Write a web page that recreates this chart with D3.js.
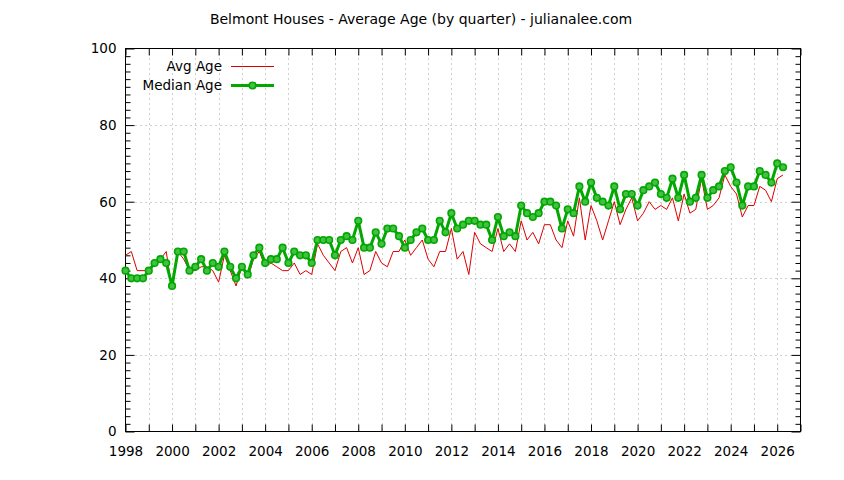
<!DOCTYPE html>
<html>
<head>
<meta charset="utf-8">
<script src="https://cdn.jsdelivr.net/npm/d3@7"></script>
<style>
  html, body { margin: 0; padding: 0; background: #fff; }
  svg { display: block; font-family: "DejaVu Sans", Verdana, sans-serif; }
</style>
</head>
<body>
<svg id="chart" width="844" height="480"></svg>
<script>
// ---- Data (quarterly, starting 1998 Q1) ----
const startYear = 1998;
const avgAge = [
  46, 47, 42, 42,   42, 44, 45, 47,   37, 47, 45, 42,   42, 43, 43, 42,
  39, 46, 42, 38,   43, 40, 45, 47,   43, 44, 43, 42,   42, 44, 41, 42,
  41, 49, 46, 44,   42, 47, 48, 44,   48, 41, 42, 47,   44, 43, 47, 47,
  50, 46, 48, 50,   45, 43, 47, 47,   53, 45, 47, 41,   52, 49, 48, 47,
  53, 47, 49, 47,   55, 50, 52, 49,   54, 54, 50, 48,   55, 51, 61, 50,
  59, 55, 50, 55,   60, 54, 58, 61,   55, 57, 60, 58,   59, 58, 61, 55,
  62, 57, 58, 66,   58, 59, 61, 67,   64, 62, 56, 59,   59, 64, 63, 60,
  66, 67
];
const medianAge = [
  42, 40, 40, 40,   42, 44, 45, 44,   38, 47, 47, 42,   43, 45, 42, 44,
  43, 47, 43, 40,   43, 41, 46, 48,   44, 45, 45, 48,   44, 47, 46, 46,
  44, 50, 50, 50,   46, 50, 51, 50,   55, 48, 48, 52,   49, 53, 53, 51,
  48, 50, 52, 53,   50, 50, 55, 52,   57, 53, 54, 55,   55, 54, 54, 50,
  56, 51, 52, 51,   59, 57, 56, 57,   60, 60, 59, 53,   58, 57, 64, 60,
  65, 61, 60, 59,   64, 58, 62, 62,   59, 63, 64, 65,   62, 61, 66, 61,
  67, 60, 61, 67,   61, 63, 64, 68,   69, 65, 59, 64,   64, 68, 67, 65,
  70, 69
];
const xTickLabels = [1998, 2000, 2002, 2004, 2006, 2008, 2010, 2012, 2014, 2016, 2018, 2020, 2022, 2024, 2026];
const yTickLabels = [0, 20, 40, 60, 80, 100];
const seriesNames = ["Avg Age", "Median Age"];
const titleText = "Belmont Houses - Average Age (by quarter) - julianalee.com";

// ---- Layout ----
const svg = d3.select("#chart");
const L = 125.5, R = 800.5, T = 48.5, B = 431.5;
const x = d3.scaleLinear().domain([1998, 2027]).range([L, R]);
const y = d3.scaleLinear().domain([0, 100]).range([B, T]);

const RED = "#dd0000", GREEN = "#00a800", GREEN_FILL = "#44c044";
const fontSize = 13.5;

// Grid
const yearTicks = d3.range(1999, 2027);
const gridG = svg.append("g");
gridG.selectAll("line.vg").data(yearTicks).join("line")
  .attr("x1", d => Math.round(x(d)) + 0.5).attr("x2", d => Math.round(x(d)) + 0.5)
  .attr("y1", T).attr("y2", B)
  .attr("stroke", "#a0a0a0").attr("stroke-width", 1).attr("stroke-dasharray", "1,4");
gridG.selectAll("line.hg").data(yTickLabels.filter(v => v > 0 && v < 100)).join("line")
  .attr("x1", L).attr("x2", R)
  .attr("y1", d => Math.round(y(d)) + 0.5).attr("y2", d => Math.round(y(d)) + 0.5)
  .attr("stroke", "#a0a0a0").attr("stroke-width", 1).attr("stroke-dasharray", "1,4");

// Axes with d3 axis generators (ticks inward on all four sides)
const yMinor = d3.range(0, 101, 2).filter(v => v % 20 !== 0);
function addAxis(gen, transform) {
  const g = svg.append("g").attr("transform", transform).call(gen);
  g.select(".domain").remove();
  g.selectAll("line").attr("stroke", "#000");
  g.selectAll("text").attr("font-family", "DejaVu Sans, Verdana, sans-serif")
    .attr("font-size", fontSize).attr("fill", "#000");
  return g;
}
// bottom year ticks (inward)
addAxis(d3.axisBottom(x).tickValues(d3.range(1998, 2028)).tickSize(-7)
  .tickFormat(d => xTickLabels.includes(d) ? String(d) : ""), `translate(0,${B})`)
  .selectAll("text").attr("y", 15).attr("dy", "0.71em");
addAxis(d3.axisTop(x).tickValues(d3.range(1998, 2028)).tickSize(-7).tickFormat(""), `translate(0,${T})`);
// left major/minor
addAxis(d3.axisLeft(y).tickValues(yTickLabels).tickSize(-9).tickFormat(d3.format("d")), `translate(${L},0)`)
  .selectAll("text").attr("x", -9);
addAxis(d3.axisLeft(y).tickValues(yMinor).tickSize(-5).tickFormat(""), `translate(${L},0)`);
addAxis(d3.axisRight(y).tickValues(yTickLabels).tickSize(-9).tickFormat(""), `translate(${R},0)`);
addAxis(d3.axisRight(y).tickValues(yMinor).tickSize(-5).tickFormat(""), `translate(${R},0)`);

// Frame
svg.append("rect").attr("x", L).attr("y", T).attr("width", R - L).attr("height", B - T)
  .attr("fill", "none").attr("stroke", "#000").attr("stroke-width", 1);

// Series
const tOf = i => startYear + i / 4;
const line = d3.line().x((d, i) => x(tOf(i))).y(d => y(d));
svg.append("path").datum(avgAge).attr("d", line)
  .attr("fill", "none").attr("stroke", RED).attr("stroke-width", 1);
svg.append("path").datum(medianAge).attr("d", line)
  .attr("fill", "none").attr("stroke", GREEN).attr("stroke-width", 3).attr("stroke-linejoin", "round");
svg.append("g").selectAll("circle").data(medianAge).join("circle")
  .attr("cx", (d, i) => x(tOf(i))).attr("cy", d => y(d)).attr("r", 3.3)
  .attr("fill", GREEN_FILL).attr("stroke", GREEN).attr("stroke-width", 1.6);

// Legend
const leg = svg.append("g");
const legRows = [{name: seriesNames[0], y: 66.5, color: RED, w: 1, pt: false},
                 {name: seriesNames[1], y: 85.5, color: GREEN, w: 3, pt: true}];
legRows.forEach(r => {
  leg.append("text").attr("x", 222).attr("y", r.y).attr("dy", "0.35em")
    .attr("text-anchor", "end").attr("font-size", fontSize).attr("fill", "#000").text(r.name);
  leg.append("line").attr("x1", 231).attr("x2", 274).attr("y1", r.y).attr("y2", r.y)
    .attr("stroke", r.color).attr("stroke-width", r.w);
  if (r.pt) leg.append("circle").attr("cx", 252.5).attr("cy", r.y).attr("r", 3.3)
    .attr("fill", GREEN_FILL).attr("stroke", GREEN).attr("stroke-width", 1.6);
});

// Title
svg.append("text").attr("x", 421).attr("y", 19).attr("dy", "0.35em")
  .attr("text-anchor", "middle").attr("font-size", 14).attr("fill", "#000").text(titleText);
</script>
</body>
</html>
